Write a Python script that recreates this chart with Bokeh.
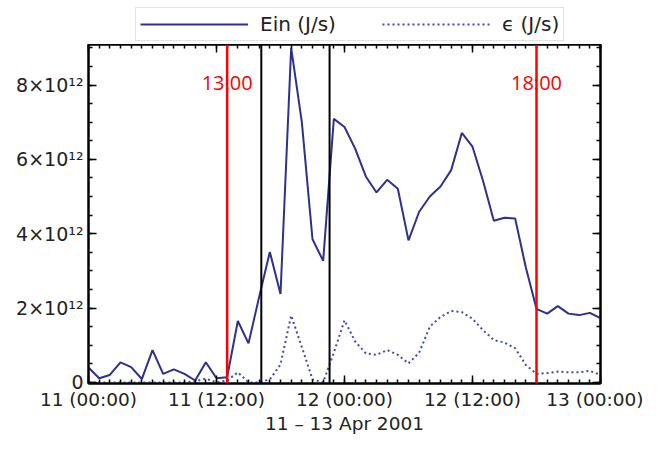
from bokeh.plotting import figure
from bokeh.layouts import column
from bokeh.models import (Range1d, FixedTicker, LinearAxis, Span, Label, Legend, LegendItem,
                          CustomJSTickFormatter)
from bokeh.embed import file_html
from bokeh.resources import INLINE

# ---- data (hours since 11 Apr 2001 00:00) ----
hours = list(range(49))
ein = [0.40, 0.11, 0.20, 0.54, 0.41, 0.09, 0.87, 0.23, 0.35, 0.23, 0.05, 0.54, 0.11,
       0.14, 1.65, 1.05, 2.30, 3.51, 2.38, 9.00, 7.00, 3.85, 3.27, 7.09, 6.87, 6.29,
       5.54, 5.11, 5.45, 5.21, 3.82, 4.59, 5.00, 5.27, 5.71, 6.71, 6.34, 5.41, 4.35,
       4.43, 4.41, 3.09, 1.98, 1.85, 2.05, 1.85, 1.81, 1.87, 1.73]
eps = [0.0, 0.0, 0.0, 0.0, 0.0, 0.0, 0.0, 0.0, 0.0, 0.0, 0.03, 0.10, 0.0,
       0.05, 0.27, 0.0, 0.0, 0.08, 0.48, 1.80, 0.95, 0.08, 0.0, 0.80, 1.67, 1.10,
       0.78, 0.74, 0.87, 0.74, 0.51, 0.80, 1.50, 1.76, 1.92, 1.89, 1.71, 1.40, 1.14,
       1.07, 0.92, 0.47, 0.23, 0.25, 0.29, 0.27, 0.27, 0.31, 0.20]
scale = 1e12
series_names = ["Ein (J/s)", "ϵ (J/s)"]

x_ticks = [0, 12, 24, 36, 48]
x_labels = ["11 (00:00)", "11 (12:00)", "12 (00:00)", "12 (12:00)", "13 (00:00)"]
y_ticks = [0, 2e12, 4e12, 6e12, 8e12]
y_labels = ["0", "2×10¹²", "4×10¹²", "6×10¹²", "8×10¹²"]
x_title = "11 – 13 Apr 2001"

red_marks = [13, 42]
red_texts = ["13:00", "18:00"]
black_marks = [16.2, 22.6]

ein_v = [v * scale for v in ein]
eps_v = [v * scale for v in eps]

FONT = "DejaVu Sans"
C_EIN = "#2b3191"
C_EPS = "#3f48b8"
W = 643
TOP_H = 44
MAIN_H = 436 - TOP_H

# ---------- legend strip (sits above the plot frame) ----------
# the series are drawn here too, but outside this strip's y range (invisible);
# they only serve as legend glyph sources
leg = figure(width=W, height=TOP_H, output_backend="svg", toolbar_location=None,
             x_range=Range1d(0, 48), y_range=Range1d(-2e12, -1e12), min_border=0,
             x_axis_location=None, y_axis_location=None)
leg.grid.visible = False
leg.outline_line_color = None
leg.background_fill_color = "white"
leg.border_fill_color = "white"
d1 = leg.line(hours, ein_v, line_color=C_EIN, line_width=2)
d2 = leg.line(hours, eps_v, line_color=C_EPS, line_width=2, line_dash="2 3")
legend = Legend(items=[LegendItem(label=series_names[0], renderers=[d1]),
                       LegendItem(label=series_names[1], renderers=[d2])],
                orientation="horizontal", location=(47, 3), padding=4, spacing=46,
                glyph_width=108, glyph_height=20, label_standoff=12,
                label_text_font=FONT, label_text_font_size="20px",
                label_text_color="#222222",
                border_line_color="#c8c8c8", border_line_width=1.5,
                background_fill_color="white", background_fill_alpha=1, margin=0)
leg.add_layout(legend)

# ---------- main plot ----------
p = figure(width=W, height=MAIN_H, output_backend="svg", toolbar_location=None,
           x_range=Range1d(0, 48), y_range=Range1d(-0.03e12, 9.09e12),
           min_border_left=88, min_border_right=W - 88 - 512, min_border_top=0,
           min_border_bottom=53, x_axis_location=None, y_axis_location=None)
p.grid.visible = False
p.outline_line_color = "black"
p.outline_line_width = 2
p.background_fill_color = "white"
p.border_fill_color = "white"

xt = FixedTicker(ticks=x_ticks, minor_ticks=hours)
yt = FixedTicker(ticks=y_ticks, minor_ticks=[i * 0.5e12 for i in range(19)])


def style_axis(ax, labels, size="19px"):
    ax.axis_line_color = "black"
    ax.axis_line_width = 2
    ax.major_tick_in = 8
    ax.major_tick_out = 0
    ax.minor_tick_in = 4
    ax.minor_tick_out = 0
    ax.major_tick_line_color = "black"
    ax.minor_tick_line_color = "black"
    ax.major_tick_line_width = 1.5
    ax.minor_tick_line_width = 1.5
    if labels:
        ax.major_label_text_font = FONT
        ax.major_label_text_font_size = size
        ax.major_label_text_color = "#222222"
    else:
        ax.formatter = CustomJSTickFormatter(code="return ''")
        ax.major_label_text_font_size = "1px"
        ax.major_label_standoff = 0


xb = LinearAxis(ticker=xt, major_label_overrides=dict(zip(x_ticks, x_labels)))
style_axis(xb, True, "18.5px")
xb.major_label_standoff = 5
xb.axis_label = x_title
xb.axis_label_text_font = FONT
xb.axis_label_text_font_size = "18.5px"
xb.axis_label_text_font_style = "normal"
xb.axis_label_text_color = "#222222"
xb.axis_label_standoff = 0
p.add_layout(xb, "below")

xa = LinearAxis(ticker=xt)
style_axis(xa, False)
p.add_layout(xa, "above")

yl = LinearAxis(ticker=yt, major_label_overrides=dict(zip(y_ticks, y_labels)))
style_axis(yl, True)
yl.major_label_standoff = 5
p.add_layout(yl, "left")

yr = LinearAxis(ticker=yt)
style_axis(yr, False)
p.add_layout(yr, "right")

p.line(hours, ein_v, line_color=C_EIN, line_width=2)
p.line(hours, eps_v, line_color=C_EPS, line_width=2, line_dash="2 3")

for xm, txt in zip(red_marks, red_texts):
    p.add_layout(Span(location=xm, dimension="height", line_color="#ff0000", line_width=2.5))
    p.add_layout(Label(x=xm, y=8.08e12, text=txt, text_color="#ff0000",
                       text_font="Open Sans", text_font_size="20px",
                       text_align="center", text_baseline="middle"))
for xm in black_marks:
    p.add_layout(Span(location=xm, dimension="height", line_color="black", line_width=2))

layout = column(leg, p, spacing=0)
open("out.html", "w").write(file_html(layout, INLINE))
